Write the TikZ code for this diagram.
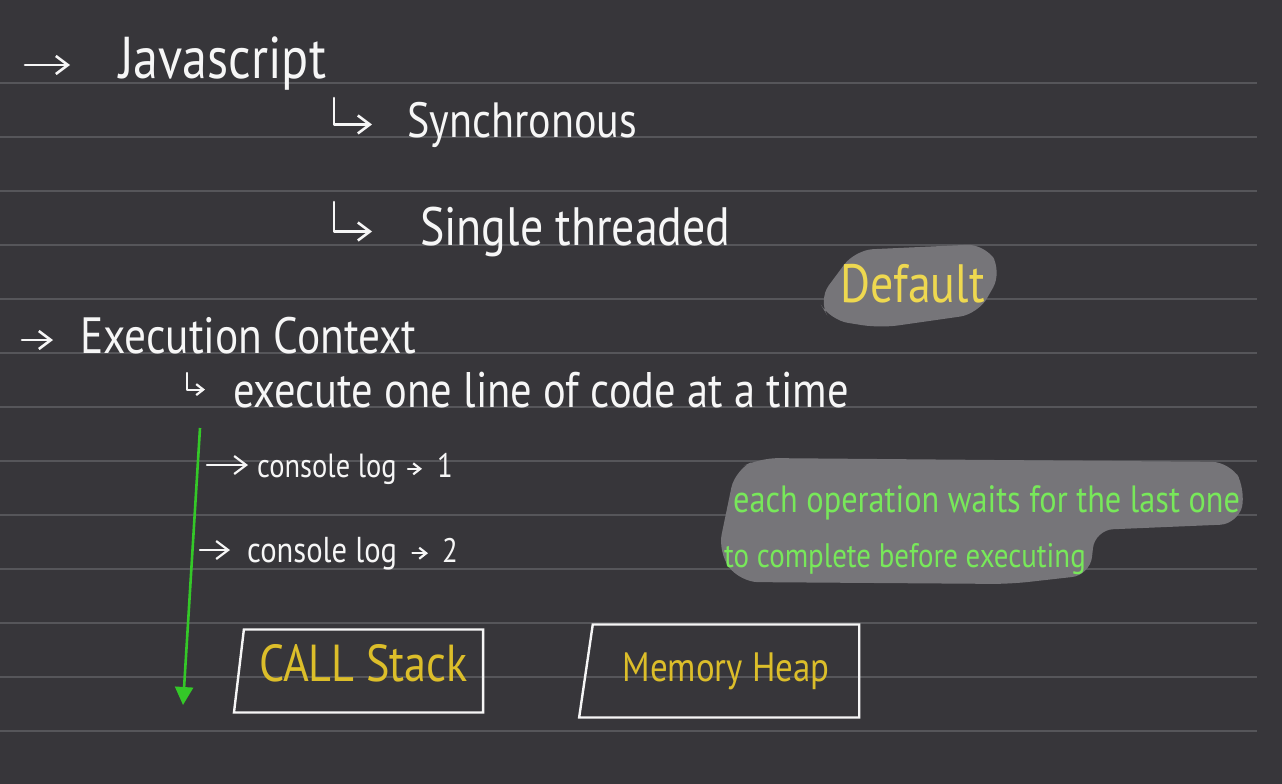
\documentclass[tikz,border=0pt]{standalone}
\usepackage{fontspec}
\setmainfont{PT Sans}[FakeStretch=0.85]
\usetikzlibrary{positioning,arrows.meta,shapes.geometric}
\definecolor{board}{RGB}{55,54,58}
\definecolor{ruleln}{RGB}{86,86,90}
\definecolor{chalk}{RGB}{246,246,246}
\definecolor{hlgray}{RGB}{118,117,121}
\definecolor{penyel}{RGB}{238,216,80}
\definecolor{boxyel}{RGB}{220,190,42}
\definecolor{pengrn}{RGB}{120,232,90}
\definecolor{arrgrn}{RGB}{52,200,40}
\newcommand{\hfs}[1]{\fontsize{#1}{#1}\selectfont}
\tikzset{
  hand/.style   ={text=chalk, inner sep=0pt, anchor=base west},
  hbig/.style   ={hand, font=\hfs{54}},
  hmid/.style   ={hand, font=\hfs{50}},
  hsml/.style   ={hand, font=\hfs{34}},
  note/.style   ={hand, text=pengrn},
  pen/.style    ={chalk, line width=2.6pt, line cap=round, line join=round, -{Straight Barb[length=12pt, width=18pt]}},
  pensml/.style ={chalk, line width=2.2pt, line cap=round, line join=round, -{Straight Barb[length=7pt, width=11pt]}},
  flow/.style   ={arrgrn, line width=2.6pt, -{Triangle[length=18pt, width=18pt]}},
  blob/.style   ={fill=hlgray, rounded corners=18pt},
  membox/.style ={draw=chalk, line width=2.4pt, trapezium, trapezium right angle=90, trapezium stretches=true, text=boxyel},
  ruled/.style  ={ruleln, line width=1.6pt},
}

\begin{document}
\begin{tikzpicture}[x=1pt, y=-1pt]
  \fill[board] (0,0) rectangle (1282,784);
  \useasboundingbox (0,0) rectangle (1282,784);
  \foreach \ly in {83,137,...,731}
    \draw[ruled] (0,\ly) -- (1257,\ly);

  % highlighter marks
  \fill[blob] (818,300) -- (855,250) -- (985,244) -- (1002,272) -- (978,314) -- (880,328) -- (830,320) -- cycle;
  \fill[blob] (718,552) -- (735,470) -- (760,458) -- (1230,462) -- (1246,490) -- (1238,524) -- (1095,530) -- (1090,575) -- (1010,584) -- (740,582) -- cycle;

  \node[hbig, font=\hfs{59}] (js) at (119,78) {Javascript};
  \node[hbig, font=\hfs{49.5}] (sync) at (407,137) {Synchronous};
  \node[hbig] (single) at (420,245) {Single threaded};
  \node[hbig, text=penyel] (default) at (840,302) {Default};
  \node[hbig, font=\hfs{51}] (exec) at (80,353) {Execution Context};
  \node[hmid] (oneline) at (233,407) {execute one line of code at a time};

  \node[hsml, font=\hfs{33.5}] (log1) at (257,477) {console log};
  \node[hsml] (one) at (437,477) {1};
  \node[hsml, font=\hfs{36}] (log2) at (247,562) {console log};
  \node[hsml] (two) at (442,562) {2};

  \node[note, font=\hfs{38}] (note1) at (733,512) {each operation waits for the last one};
  \node[note, font=\hfs{34}] (note2) at (724,567) {to complete before executing};

  \node[membox, font=\hfs{52}, text depth=16pt, trapezium left angle=81.5, minimum width=250pt, minimum height=83pt] (stack) at (363.5,671) {CALL Stack};
  \node[membox, font=\hfs{41}, trapezium left angle=76, minimum width=281pt, minimum height=93pt] (heap) at (726,671) {Memory Heap};

  \coordinate (a1) at (25,65);
  \coordinate (a2) at (22,340);
  \coordinate (h1) at (334,98);
  \coordinate (h2) at (334,202);
  \coordinate (h3) at (187,373);
  \coordinate (b1) at (207,465);
  \coordinate (b2) at (200,550);
  \coordinate (gtop) at (200,428);
  \coordinate (gbot) at (183,705);

  \draw[pen, shorten >=49pt] (a1) -- (a1 -| js.west);
  \draw[pen, shorten >=35pt] (h1) |- (sync.west);
  \draw[pen, shorten >=48pt] (h2) |- (single.west);
  \draw[pen, shorten >=27pt] (a2) -- (a2 -| exec.west);
  \draw[pensml, shorten >=28pt] (h3) |- (oneline.west);
  \draw[pen, line width=2.2pt, shorten >=9pt] (b1) -- (b1 -| log1.west);
  \draw[pen, line width=2.2pt, shorten >=17pt] (b2) -- (b2 -| log2.west);
  \draw[pensml, shorten <=11pt, shorten >=15pt] (log1.east) -- (log1.east -| one.west);
  \draw[pensml, shorten <=15pt, shorten >=14pt] (log2.east) -- (log2.east -| two.west);

  \draw[flow] (gtop) -- (gbot);
\end{tikzpicture}
\end{document}
